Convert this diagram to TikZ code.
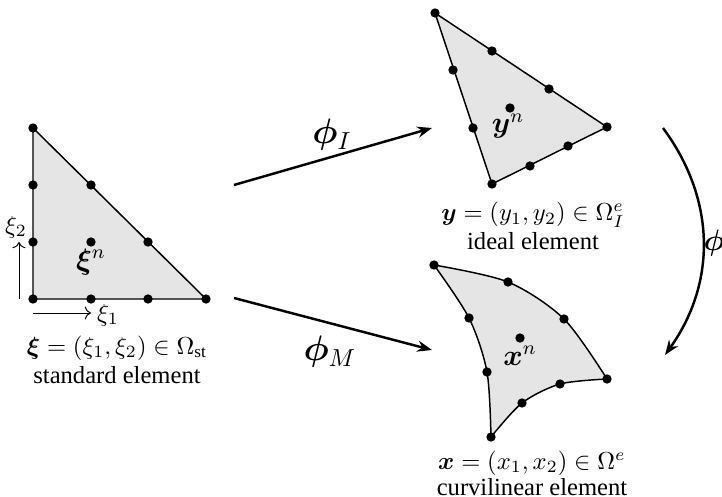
\documentclass[tikz,border=0pt]{standalone}
\usepackage{amsmath}
\usepackage{bm}
\usepackage{fontspec}
\setmainfont{Liberation Serif}
\usetikzlibrary{arrows.meta}
\tikzset{
  nd/.style={circle,fill=black,inner sep=0pt,minimum size=3.8pt},
  elem/.style={fill=gray!20,line width=0.6pt},
  map/.style={line width=1pt,-{Stealth[length=6pt,width=4.5pt]}},
  axis/.style={line width=0.4pt,-{To[length=2.5pt]}}
}
\begin{document}
\begin{tikzpicture}[x=0.0143cm,y=-0.0143cm]
    \useasboundingbox (0,0) rectangle (722,497);
    % standard element
    \coordinate (s1) at (33,128);
    \coordinate (s2) at (33,299);
    \coordinate (s3) at (206,299);
    \draw[elem] (s1) -- (s2) -- (s3) -- cycle;
    \foreach \p [count=\i] in {(s1),(s2),(s3),(33,185),(33,242),(91,299),(148,299),(91,185),(148,242),(91,242)}
        \node[nd] (sn\i) at \p {};
    \node (xin) at (91,262) {\large$\bm{\xi}^n$};
    \coordinate (a2s) at (19,299);
    \coordinate (a2e) at (19,242);
    \draw[axis] (a2s) -- (a2e);
    \node (xi2) at (16,227) {$\xi_2$};
    \coordinate (a1s) at (33,313);
    \coordinate (a1e) at (91,313);
    \draw[axis] (a1s) -- (a1e);
    \node (xi1) at (108,315) {$\xi_1$};
    \node (stlab) at (117,348) {$\bm{\xi}=(\xi_1,\xi_2)\in\Omega_{\mathrm{st}}$};
    \node (stname) at (117,375) {standard element};
    % ideal element
    \coordinate (i1) at (435,13);
    \coordinate (i2) at (607,127);
    \coordinate (i3) at (492,184);
    \draw[elem] (i1) -- (i2) -- (i3) -- cycle;
    \foreach \p [count=\i] in {(i1),(i2),(i3),(492,51),(549,89),(453,70),(473,128),(530,166),(568,146),(510,108)}
        \node[nd] (in\i) at \p {};
    \node (yn) at (508,126) {\large$\bm{y}^n$};
    \node (idlab) at (533,215) {$\bm{y}=(y_1,y_2)\in\Omega_I^e$};
    \node (idname) at (533,241) {ideal element};
    % curvilinear element
    \coordinate (c1) at (434,265);
    \coordinate (c2) at (607,379);
    \coordinate (c3) at (491,437);
    \draw[elem] plot[smooth] coordinates {(c1) (508,282) (564,319) (c2)}
        -- plot[smooth] coordinates {(c2) (560,384) (522,403) (c3)}
        -- plot[smooth] coordinates {(c3) (487,372) (469,318) (c1)} -- cycle;
    \foreach \p [count=\i] in {(c1),(c2),(c3),(508,282),(564,319),(560,384),(522,403),(487,372),(469,318),(520,338)}
        \node[nd] (cn\i) at \p {};
    \node (xn) at (520,356) {\large$\bm{x}^n$};
    \node (cvlab) at (532,463) {$\bm{x}=(x_1,x_2)\in\Omega^e$};
    \node (cvname) at (532,487) {curvilinear element};
    % maps
    \coordinate (pIs) at (234,185);
    \coordinate (pIe) at (432,128);
    \draw[map] (pIs) -- (pIe);
    \node (phiI) at (332,135) {\Large$\bm{\phi}_I$};
    \coordinate (pMs) at (234,298);
    \coordinate (pMe) at (432,350);
    \draw[map] (pMs) -- (pMe);
    \node (phiM) at (330,352) {\Large$\bm{\phi}_M$};
    \coordinate (pCs) at (663,128);
    \coordinate (pCe) at (665,355);
    \draw[map] (pCs) to[bend left=36] (pCe);
    \node (phiC) at (714,243) {\large$\bm{\phi}$};
\end{tikzpicture}
\end{document}
